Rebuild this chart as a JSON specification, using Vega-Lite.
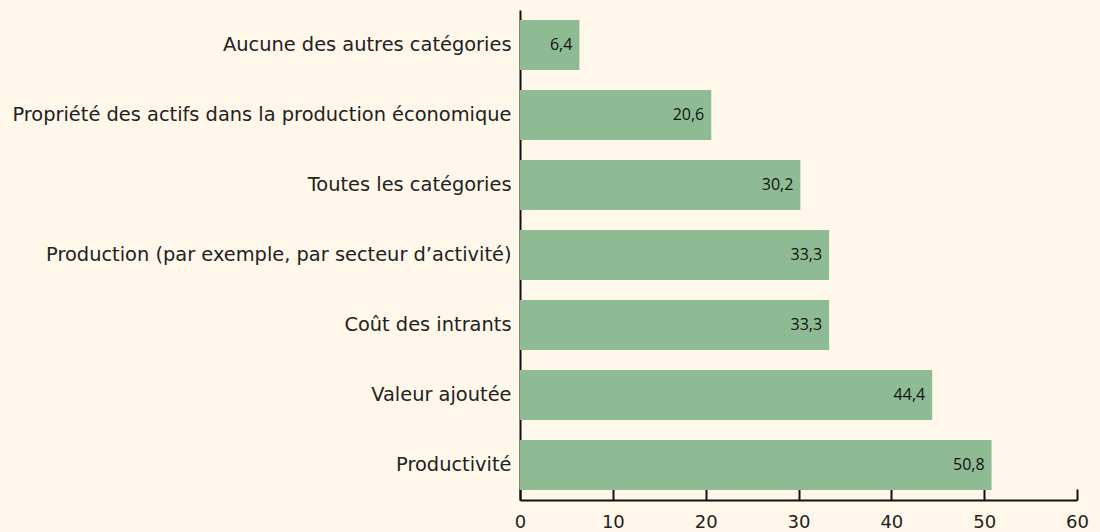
{
  "$schema": "https://vega.github.io/schema/vega-lite/v6.json",
  "autosize": "none",
  "width": 557,
  "height": 490,
  "padding": {"left": 520, "top": 10, "right": 23, "bottom": 32},
  "background": "#fef7ea",
  "config": {
    "view": {"stroke": null},
    "locale": {"number": {"decimal": ",", "thousands": " ", "grouping": [3], "currency": ["", " €"]}}
  },
  "data": {"values": [
    {"cat": "Aucune des autres catégories", "val": 6.4},
    {"cat": "Propriété des actifs dans la production économique", "val": 20.6},
    {"cat": "Toutes les catégories", "val": 30.2},
    {"cat": "Production (par exemple, par secteur d’activité)", "val": 33.3},
    {"cat": "Coût des intrants", "val": 33.3},
    {"cat": "Valeur ajoutée", "val": 44.4},
    {"cat": "Productivité", "val": 50.8}
  ]},
  "encoding": {
    "y": {
      "field": "cat", "type": "nominal",
      "sort": ["Aucune des autres catégories", "Propriété des actifs dans la production économique", "Toutes les catégories", "Production (par exemple, par secteur d’activité)", "Coût des intrants", "Valeur ajoutée", "Productivité"],
      "scale": {"paddingInner": 0.2857, "paddingOuter": 0.143},
      "axis": {"title": null, "ticks": false, "domainColor": "#111", "domainWidth": 2, "labelFont": "DejaVu Sans", "labelFontSize": 19.4, "labelColor": "#222", "labelPadding": 9, "labelLimit": 600}
    },
    "x": {
      "field": "val", "type": "quantitative",
      "scale": {"domain": [0, 60], "nice": false},
      "axis": {"title": null, "grid": false, "values": [0, 10, 20, 30, 40, 50, 60], "format": "d", "labelFlush": false, "domainColor": "#111", "domainWidth": 2, "tickColor": "#111", "tickWidth": 2, "tickSize": -11, "labelPadding": 24, "labelFont": "DejaVu Sans", "labelFontSize": 18, "labelColor": "#222"}
    }
  },
  "layer": [
    {"mark": {"type": "bar", "color": "#8fbb94"}},
    {"mark": {"type": "text", "align": "right", "dx": -7, "font": "Open Sans", "fontSize": 16, "color": "#111"},
     "encoding": {"text": {"field": "val", "type": "quantitative", "format": ".1f"}}}
  ]
}
